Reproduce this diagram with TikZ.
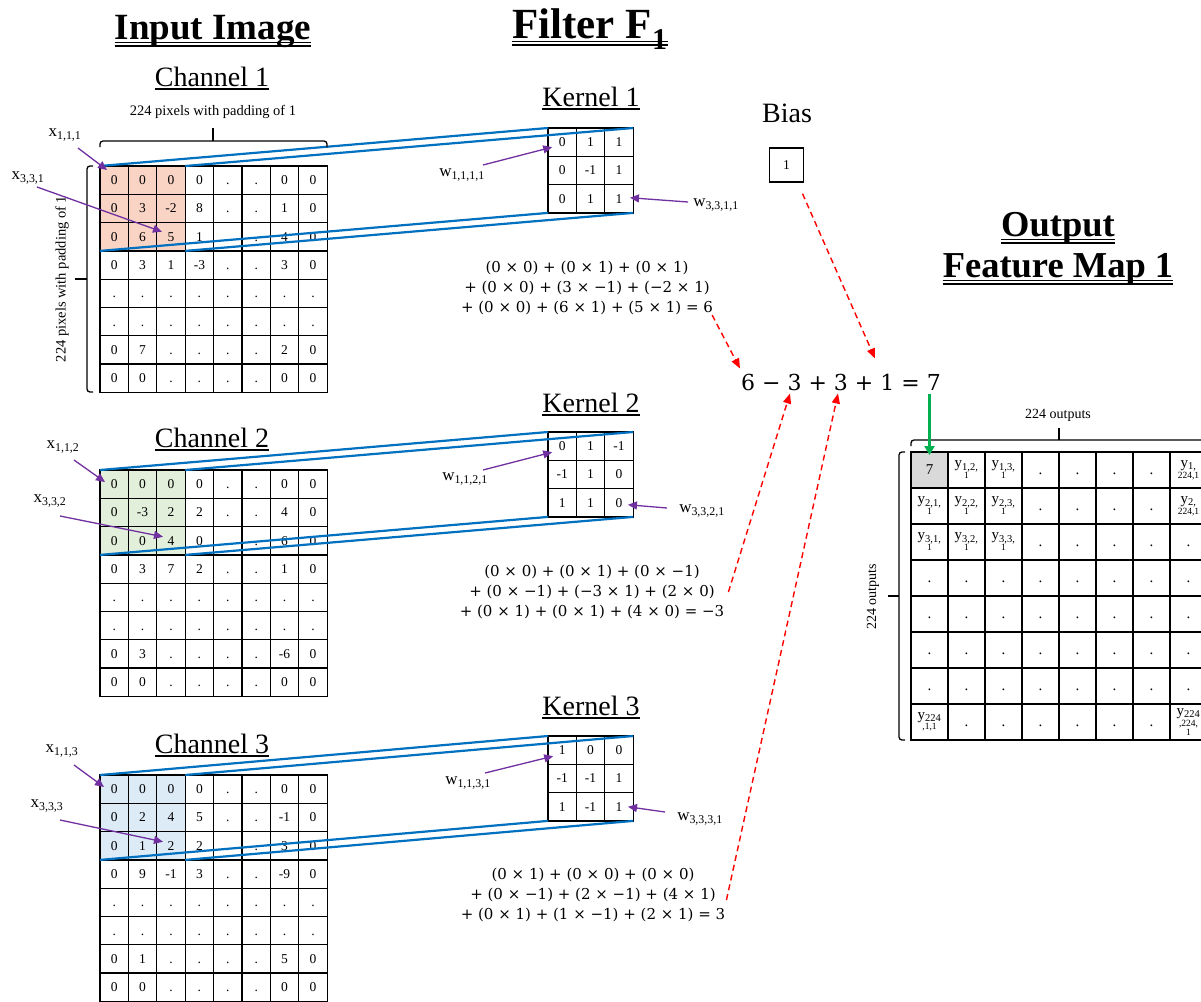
\documentclass[tikz,border=0pt]{standalone}
\usepackage[no-math]{fontspec}
\setmainfont{Liberation Serif}
\newfontfamily\eqfont{DejaVu Serif}
\usetikzlibrary{arrows.meta,calc}

\definecolor{convblue}{HTML}{0070C0}
\definecolor{tagpurple}{HTML}{7030A0}
\definecolor{sumgreen}{HTML}{00B050}
\definecolor{winred}{HTML}{F9D4C5}
\definecolor{wingreen}{HTML}{E2EFDA}
\definecolor{winblue}{HTML}{DDEBF7}
\definecolor{outgray}{HTML}{D9D9D9}

\newcommand\fs[1]{\fontsize{#1}{#1}\selectfont}

% grid of input / kernel values: name, left, top, rows
\newcommand\valgrid[4]{%
  \foreach \rowvals [count=\ri] in {#4} {
    \foreach \v [count=\ci] in \rowvals {
      \node[cell] (#1-\ri-\ci) at ({#2+(\ci-0.5)*28.4},{#3+(\ri-0.5)*28.3}) {\v};
    }
  }%
}
% output entries
\newcommand\ystack[2]{\shortstack{y\textsubscript{#1}\\[-2pt]{\fs{9.5}#2}}}
\newcommand\od{\vphantom{0}.}
\newcommand\dunder[1]{%
  \draw[line width=1.3pt] ([yshift=-3.5pt]#1.base west) -- ([yshift=-3.5pt]#1.base east)
    ([yshift=-7pt]#1.base west) -- ([yshift=-7pt]#1.base east);}
\newcommand\sunder[1]{%
  \draw[line width=1.1pt] ([yshift=-3pt]#1.base west) -- ([yshift=-3pt]#1.base east);}

\begin{document}
\begin{tikzpicture}[x=1pt,y=-1pt,
  cell/.style={draw, line width=1.3pt, minimum width=28.4pt, minimum height=28.3pt,
    inner sep=0pt, outer sep=0pt, text height=9pt, text depth=0pt, font=\fs{13.5}},
  ocell/.style={draw, line width=1.3pt, minimum width=37pt, minimum height=36pt,
    inner sep=0pt, outer sep=0pt, font=\fs{15}},
  heading/.style={anchor=base, inner sep=0pt},
  wlabel/.style={inner sep=1pt, font=\fs{17}},
  sizenote/.style={inner sep=1pt, font=\fs{14.5}},
  sumtext/.style={align=center, font=\eqfont\fontsize{15}{20}\selectfont, inner sep=2pt},
  proj/.style={draw=convblue, line width=2.2pt},
  tagarrow/.style={draw=tagpurple, line width=1.3pt, -{Triangle[length=9pt,width=8pt]}},
  sumarrow/.style={draw=red, dash pattern=on 6pt off 4pt, line width=1.4pt,
    -{Triangle[length=10pt,width=8pt]}},
  curly/.style={line width=1.3pt, rounded corners=3pt},
]
\useasboundingbox (0,0) rectangle (1201,1001);
\fill[white] (0,0) rectangle (1201,1001);

% highlighted 3x3 windows
\fill[winred]   (100,166) rectangle ++(85.2,84.9);
\fill[wingreen] (100,470) rectangle ++(85.2,84.9);
\fill[winblue]  (100,775) rectangle ++(85.2,84.9);
\fill[outgray]  (911,452) rectangle ++(37,36);

% input channels
\valgrid{ch1}{100}{166}{
  {0,0,0,0,.,.,0,0},{0,3,-2,8,.,.,1,0},{0,6,5,1,.,.,4,0},{0,3,1,-3,.,.,3,0},
  {.,.,.,.,.,.,.,.},{.,.,.,.,.,.,.,.},{0,7,.,.,.,.,2,0},{0,0,.,.,.,.,0,0}}
\valgrid{ch2}{100}{470}{
  {0,0,0,0,.,.,0,0},{0,-3,2,2,.,.,4,0},{0,0,4,0,.,.,6,0},{0,3,7,2,.,.,1,0},
  {.,.,.,.,.,.,.,.},{.,.,.,.,.,.,.,.},{0,3,.,.,.,.,-6,0},{0,0,.,.,.,.,0,0}}
\valgrid{ch3}{100}{775}{
  {0,0,0,0,.,.,0,0},{0,2,4,5,.,.,-1,0},{0,1,2,2,.,.,3,0},{0,9,-1,3,.,.,-9,0},
  {.,.,.,.,.,.,.,.},{.,.,.,.,.,.,.,.},{0,1,.,.,.,.,5,0},{0,0,.,.,.,.,0,0}}

% kernels
\valgrid{k1}{548}{128}{{0,1,1},{0,-1,1},{0,1,1}}
\valgrid{k2}{548}{432}{{0,1,-1},{-1,1,0},{1,1,0}}
\valgrid{k3}{548}{736}{{1,0,0},{-1,-1,1},{1,-1,1}}

% output feature map
\foreach \rowvals [count=\ri] in {
  {7,{\ystack{1,2,}{1}},{\ystack{1,3,}{1}},\od,\od,\od,\od,{\ystack{1,}{224,1}}},
  {{\ystack{2,1,}{1}},{\ystack{2,2,}{1}},{\ystack{2,3,}{1}},\od,\od,\od,\od,{\ystack{2,}{224,1}}},
  {{\ystack{3,1,}{1}},{\ystack{3,2,}{1}},{\ystack{3,3,}{1}},\od,\od,\od,\od,\od},
  {\od,\od,\od,\od,\od,\od,\od,\od},
  {\od,\od,\od,\od,\od,\od,\od,\od},
  {\od,\od,\od,\od,\od,\od,\od,\od},
  {\od,\od,\od,\od,\od,\od,\od,\od},
  {{\ystack{224}{,1,1}},\od,\od,\od,\od,\od,\od,
   {\shortstack{y\textsubscript{224}\\[-2pt]{\fs{9.5},224,}\\[-2pt]{\fs{9.5}1}}}}} {
  \foreach \v [count=\ci] in \rowvals {
    \node[ocell] (o-\ri-\ci) at ({911+(\ci-0.5)*37},{452+(\ri-0.5)*36}) {\v};
  }
}

% projection of each window onto its kernel
\foreach \n in {1,2,3} {
  \draw[proj] (ch\n-1-1.north west) -- (k\n-1-1.north west);
  \draw[proj] (ch\n-1-3.north east) -- (k\n-1-3.north east);
  \draw[proj] (ch\n-3-1.south west) -- (k\n-3-1.south west);
  \draw[proj] (ch\n-3-3.south east) -- (k\n-3-3.south east);
}

% braces and size notes
\draw[curly] (100,147) -- (100,141) -- (327,141) -- (327,147);
\draw[line width=1.3pt] (213,141) -- (213,128);
\draw[curly] (93,166) -- (87,166) -- (87,392) -- (93,392);
\draw[line width=1.3pt] (87,279) -- (75,279);
\node[sizenote] (padtop) at (213,112) {224 pixels with padding of 1};
\node[sizenote, rotate=90] (padside) at (62,279) {224 pixels with padding of 1};

\draw[curly] (911,446) -- (911,440) -- (1207,440) -- (1207,446);
\draw[line width=1.3pt] (1059,440) -- (1059,428);
\draw[curly] (905,452) -- (899,452) -- (899,740) -- (905,740);
\draw[line width=1.3pt] (899,596) -- (888,596);
\node[sizenote, font=\fs{14}] (outtop) at (1058,415) {224 outputs};
\node[sizenote, font=\fs{14}, rotate=90] (outside) at (873,597) {224 outputs};

% element labels
\node[wlabel] (x111) at (65,135) {x\textsubscript{1,1,1}};
\node[wlabel] (x331) at (28,178) {x\textsubscript{3,3,1}};
\node[wlabel] (x112) at (63,447) {x\textsubscript{1,1,2}};
\node[wlabel] (x332) at (50,501) {x\textsubscript{3,3,2}};
\node[wlabel] (x113) at (62,751) {x\textsubscript{1,1,3}};
\node[wlabel] (x333) at (47,806) {x\textsubscript{3,3,3}};
\node[wlabel] (w1111) at (462,175) {w\textsubscript{1,1,1,1}};
\node[wlabel] (w3311) at (716,205) {w\textsubscript{3,3,1,1}};
\node[wlabel] (w1121) at (465,479) {w\textsubscript{1,1,2,1}};
\node[wlabel] (w3321) at (702,511) {w\textsubscript{3,3,2,1}};
\node[wlabel] (w1131) at (468,783) {w\textsubscript{1,1,3,1}};
\node[wlabel] (w3331) at (700,819) {w\textsubscript{3,3,3,1}};

\draw[tagarrow] ([shift={(13,13)}]x111.center) -- ([shift={(7,4)}]ch1-1-1.north west);
\draw[tagarrow] ([shift={(9,9)}]x331.center) -- ([shift={(-9,-5)}]ch1-3-3.center);
\draw[tagarrow] ([shift={(11,13)}]x112.center) -- ([shift={(5,12)}]ch2-1-1.north west);
\draw[tagarrow] ([shift={(10,15)}]x332.center) -- ([shift={(-8,-4)}]ch2-3-3.center);
\draw[tagarrow] ([shift={(12,14)}]x113.center) -- ([shift={(4,12)}]ch3-1-1.north west);
\draw[tagarrow] ([shift={(13,14)}]x333.center) -- ([shift={(-8,-4)}]ch3-3-3.center);
\draw[tagarrow] ([shift={(21,-10)}]w1111.center) -- ([shift={(-10,5)}]k1-1-1.center);
\draw[tagarrow] ([shift={(-28,-3)}]w3311.center) -- ([shift={(11,-1)}]k1-3-3.center);
\draw[tagarrow] ([shift={(18,-9)}]w1121.center) -- ([shift={(-10,6)}]k2-1-1.center);
\draw[tagarrow] ([shift={(-35,-3)}]w3321.center) -- ([shift={(9,2)}]k2-3-3.center);
\draw[tagarrow] ([shift={(17,-10)}]w1131.center) -- ([shift={(-9,6)}]k3-1-1.center);
\draw[tagarrow] ([shift={(-35,-7)}]w3331.center) -- ([shift={(9,0)}]k3-3-3.center);

% headings
\node[heading, font=\fs{37}\bfseries] (tInput) at (213,39) {Input Image};
\dunder{tInput}
\node[heading, font=\fs{43}\bfseries] (tFilter) at (590,38) {Filter F\textsubscript{1}};
\dunder{tFilter}
\node[heading, font=\fs{36.5}\bfseries] (tOut) at (1058,236) {Output};
\dunder{tOut}
\node[heading, font=\fs{36.5}\bfseries] (tMap) at (1058,277) {Feature Map 1};
\dunder{tMap}
\node[heading, font=\fs{28}] (tCh1) at (212,86) {Channel 1};
\sunder{tCh1}
\node[heading, font=\fs{28}] (tCh2) at (212,447) {Channel 2};
\sunder{tCh2}
\node[heading, font=\fs{28}] (tCh3) at (212,753) {Channel 3};
\sunder{tCh3}
\node[heading, font=\fs{28}] (tK1) at (591,106) {Kernel 1};
\sunder{tK1}
\node[heading, font=\fs{28}] (tK2) at (591,412) {Kernel 2};
\sunder{tK2}
\node[heading, font=\fs{28}] (tK3) at (591,715) {Kernel 3};
\sunder{tK3}
\node[heading, font=\fs{28}] (tBias) at (787,122) {Bias};

% bias value
\node[draw, line width=1.3pt, minimum size=34pt, inner sep=0pt, font=\fs{13.5}] (bias) at (786.5,165) {1};

% per-channel products
\node[sumtext] (eq1) at (587,288)
  {(0 × 0) + (0 × 1) + (0 × 1)\\
   + (0 × 0) + (3 × −1) + (−2 × 1)\\
   + (0 × 0) + (6 × 1) + (5 × 1) = 6};
\node[sumtext] (eq2) at (592,592)
  {(0 × 0) + (0 × 1) + (0 × −1)\\
   + (0 × −1) + (−3 × 1) + (2 × 0)\\
   + (0 × 1) + (0 × 1) + (4 × 0) = −3};
\node[sumtext] (eq3) at (593,895)
  {(0 × 1) + (0 × 0) + (0 × 0)\\
   + (0 × −1) + (2 × −1) + (4 × 1)\\
   + (0 × 1) + (1 × −1) + (2 × 1) = 3};

% total
\node[anchor=base, font=\eqfont\fs{22}, inner sep=3pt] (sum) at (841,390) {6 − 3 + 3 + 1 = 7};

\draw[sumarrow] ([shift={(-3,-2)}]eq1.south east) -- ([shift={(2,-2)}]sum.north west);
\draw[sumarrow] ([shift={(16,11)}]bias.south) -- ([shift={(34,-12)}]sum.north);
\draw[sumarrow] ([shift={(2,0)}]eq2.east) -- ([shift={(-51,0)}]sum.south);
\draw[sumarrow] ([shift={(-1,5)}]eq3.east) -- ([shift={(-3,0)}]sum.south);
\draw[draw=sumgreen, line width=3pt, -{Triangle[length=9pt,width=10pt]}]
  (o-1-1.north |- sum.south) -- ([shift={(0,3)}]o-1-1.north);
\end{tikzpicture}
\end{document}
